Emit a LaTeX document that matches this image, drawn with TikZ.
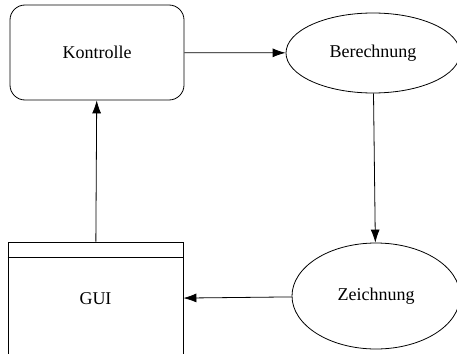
\documentclass[tikz,border=0pt]{standalone}
\usepackage{fontspec}
\setmainfont{Liberation Serif}
\usetikzlibrary{shapes.geometric,arrows.meta}

\begin{document}
\begin{tikzpicture}
[x=1pt,y=-1pt,line width=0.8pt,every node/.style={draw,font=\fontsize{18}{20}\selectfont},
 roundbox/.style={rectangle,rounded corners=15pt,minimum width=174pt,minimum height=95pt},
 oval/.style={ellipse,inner sep=0pt},
 window/.style={rectangle,minimum width=175pt,minimum height=114pt}]

  \useasboundingbox (0,0) rectangle (457,353);
  \clip (0,0) rectangle (457,353);

  \node[roundbox] (ktr) at (97,52.5) {Kontrolle};
  \node[oval,minimum width=174pt,minimum height=80pt] (ber) at (373,53) {Berechnung};
  \node[oval,minimum width=168pt,minimum height=106pt] (zei) at (376,296) {Zeichnung};
  \node[window] (gui) at (95.5,299) {GUI};
  \draw ([yshift=-16pt]gui.north west) -- ([yshift=-16pt]gui.north east);

  \foreach \from/\to in {ktr/ber, ber/zei, zei/gui, gui/ktr}
    \draw[-{Latex[length=13pt,width=9pt]}] (\from) -- (\to);

\end{tikzpicture}
\end{document}
